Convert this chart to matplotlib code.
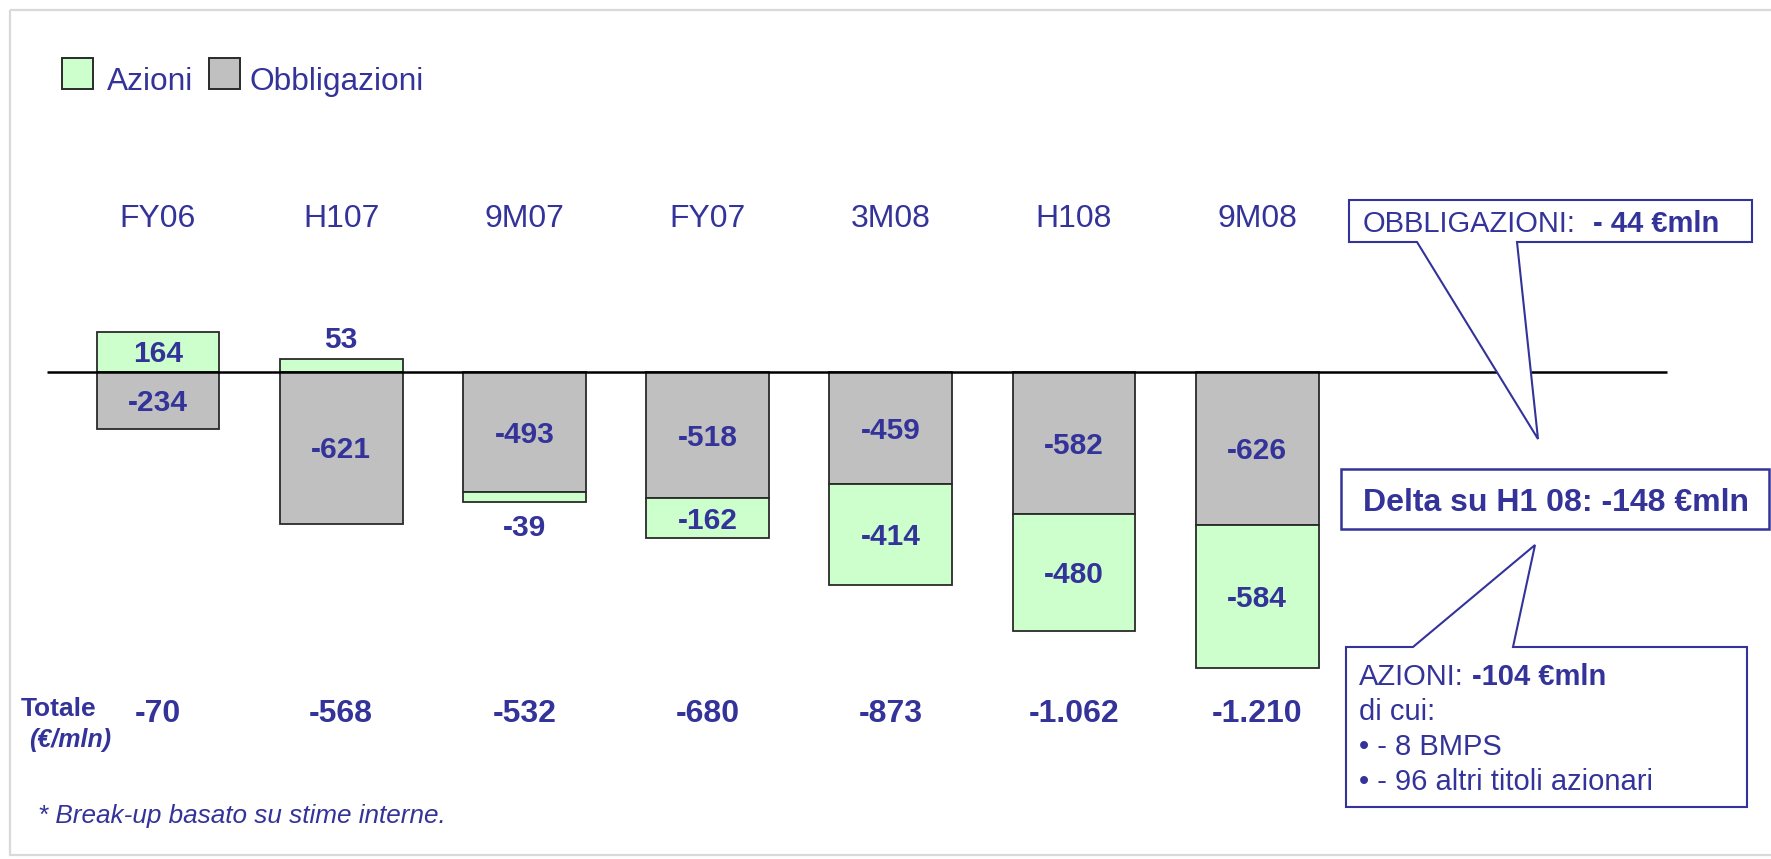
import matplotlib
matplotlib.use('Agg')
import matplotlib.pyplot as plt
from matplotlib.patches import Rectangle, Polygon
import matplotlib.transforms as mtransforms
import numpy as np

plt.rcParams['font.family'] = ['Liberation Sans', 'DejaVu Sans']

# ---------------- data ----------------
categories = ['FY06', 'H107', '9M07', 'FY07', '3M08', 'H108', '9M08']
azioni = [164, 53, -39, -162, -414, -480, -584]
obbligazioni = [-234, -621, -493, -518, -459, -582, -626]
totale_labels = ['-70', '-568', '-532', '-680', '-873', '-1.062', '-1.210']
legend_labels = ['Azioni', 'Obbligazioni']

BLUE = '#333399'
GREEN = '#CCFFCC'
GREY = '#C0C0C0'
EDGE = '#2A2A2A'

W, H = 1771, 859
fig = plt.figure(figsize=(W / 100, H / 100), dpi=100)
fig.patch.set_facecolor('white')

# main data axes (full figure)
ax = fig.add_axes([0, 0, 1, 1])
ax.set_xlim(-0.8624, 8.8046)
ax.set_ylim(-1993.0, 1520.2)
ax.axis('off')

# overlay axes in pixel coordinates (y downward)
ov = fig.add_axes([0, 0, 1, 1], zorder=5)
ov.set_xlim(0, W)
ov.set_ylim(H, 0)
ov.axis('off')
ov.patch.set_alpha(0)

x = np.arange(len(categories))
az = np.array(azioni)
ob = np.array(obbligazioni)
az_bottom = np.where(az >= 0, 0, ob)
bw = 0.67

ax.bar(x, ob, width=bw, color=GREY, edgecolor=EDGE, linewidth=1.3, zorder=2)
ax.bar(x, az, bottom=az_bottom, width=bw, color=GREEN, edgecolor=EDGE,
       linewidth=1.3, zorder=2)
ax.hlines(0, -0.606, 8.237, color='black', linewidth=1.8, zorder=3)

VSIZE = 21.5
CAP = VSIZE * 0.716

def seg_label(xi, bottom, val):
    txt = f'{val}'
    kw = dict(ha='center', va='baseline', fontsize=VSIZE, fontweight='bold',
              color=BLUE, zorder=4, textcoords='offset points')
    if abs(val) >= 60:
        ax.annotate(txt, (xi, bottom + val / 2), xytext=(0, -CAP / 2), **kw)
    elif val >= 0:
        ax.annotate(txt, (xi, bottom + val), xytext=(0, 8), **kw)
    else:
        ax.annotate(txt, (xi, bottom + val), xytext=(0, -25), **kw)

for i in range(len(categories)):
    seg_label(x[i], 0, ob[i])
    seg_label(x[i], az_bottom[i], az[i])

# category labels and totals: x in data, y in pixels
blend = mtransforms.blended_transform_factory(ax.transData, ov.transData)
for i, c in enumerate(categories):
    ov.text(x[i], 227, c, transform=blend, ha='center', va='baseline',
            fontsize=23, color=BLUE)
    ov.text(x[i], 722, totale_labels[i], transform=blend, ha='center',
            va='baseline', fontsize=23, fontweight='bold', color=BLUE)

ov.text(21, 716, 'Totale', fontsize=19, fontweight='bold', color=BLUE, va='baseline')
ov.text(29, 747, '(€/mln)', fontsize=18, fontweight='bold', fontstyle='italic',
        color=BLUE, va='baseline')
ov.text(38, 823, '* Break-up basato su stime interne.', fontsize=18.8,
        fontstyle='italic', color=BLUE, va='baseline')

# legend
ov.add_patch(Rectangle((62, 58), 31, 31, facecolor=GREEN, edgecolor=EDGE, lw=1.4))
ov.text(107, 90, legend_labels[0], fontsize=22.75, color=BLUE, va='baseline')
ov.add_patch(Rectangle((209, 58), 31, 31, facecolor=GREY, edgecolor=EDGE, lw=1.4))
ov.text(250, 90, legend_labels[1], fontsize=22.75, color=BLUE, va='baseline')

# outer frame
ov.add_patch(Rectangle((10, 10), 1790, 845, fill=False, edgecolor='#D9D9D9',
                       lw=1.6, clip_on=False))

# callouts
obb = [(1349, 200), (1752, 200), (1752, 242), (1517, 242), (1538, 439),
       (1417, 242), (1349, 242)]
ov.add_patch(Polygon(obb, closed=True, facecolor='white', edgecolor=BLUE, lw=1.5))
ov.text(1363, 231.5, 'OBBLIGAZIONI:', fontsize=21, color=BLUE, va='baseline')
ov.text(1593, 231.5, '- 44 €mln', fontsize=21, fontweight='bold', color=BLUE,
        va='baseline')

ov.add_patch(Rectangle((1341, 469), 428, 60, facecolor='white', edgecolor=BLUE, lw=1.8))
ov.text(1556, 511, 'Delta su H1 08: -148 €mln', fontsize=23, fontweight='bold',
        color=BLUE, ha='center', va='baseline')

azp = [(1346, 647), (1413, 647), (1535, 545), (1513, 647), (1747, 647),
       (1747, 807), (1346, 807)]
ov.add_patch(Polygon(azp, closed=True, facecolor='white', edgecolor=BLUE, lw=1.5))
ov.text(1359, 685, 'AZIONI:', fontsize=21, color=BLUE, va='baseline')
ov.text(1472, 685, '-104 €mln', fontsize=21, fontweight='bold', color=BLUE,
        va='baseline')
ov.text(1359, 719.5, 'di cui:', fontsize=21, color=BLUE, va='baseline')
ov.text(1359, 755, '• - 8 BMPS', fontsize=21, color=BLUE, va='baseline')
ov.text(1359, 790.5, '• - 96 altri titoli azionari', fontsize=21, color=BLUE,
        va='baseline')

fig.savefig('out.png', dpi=100, facecolor='white')
